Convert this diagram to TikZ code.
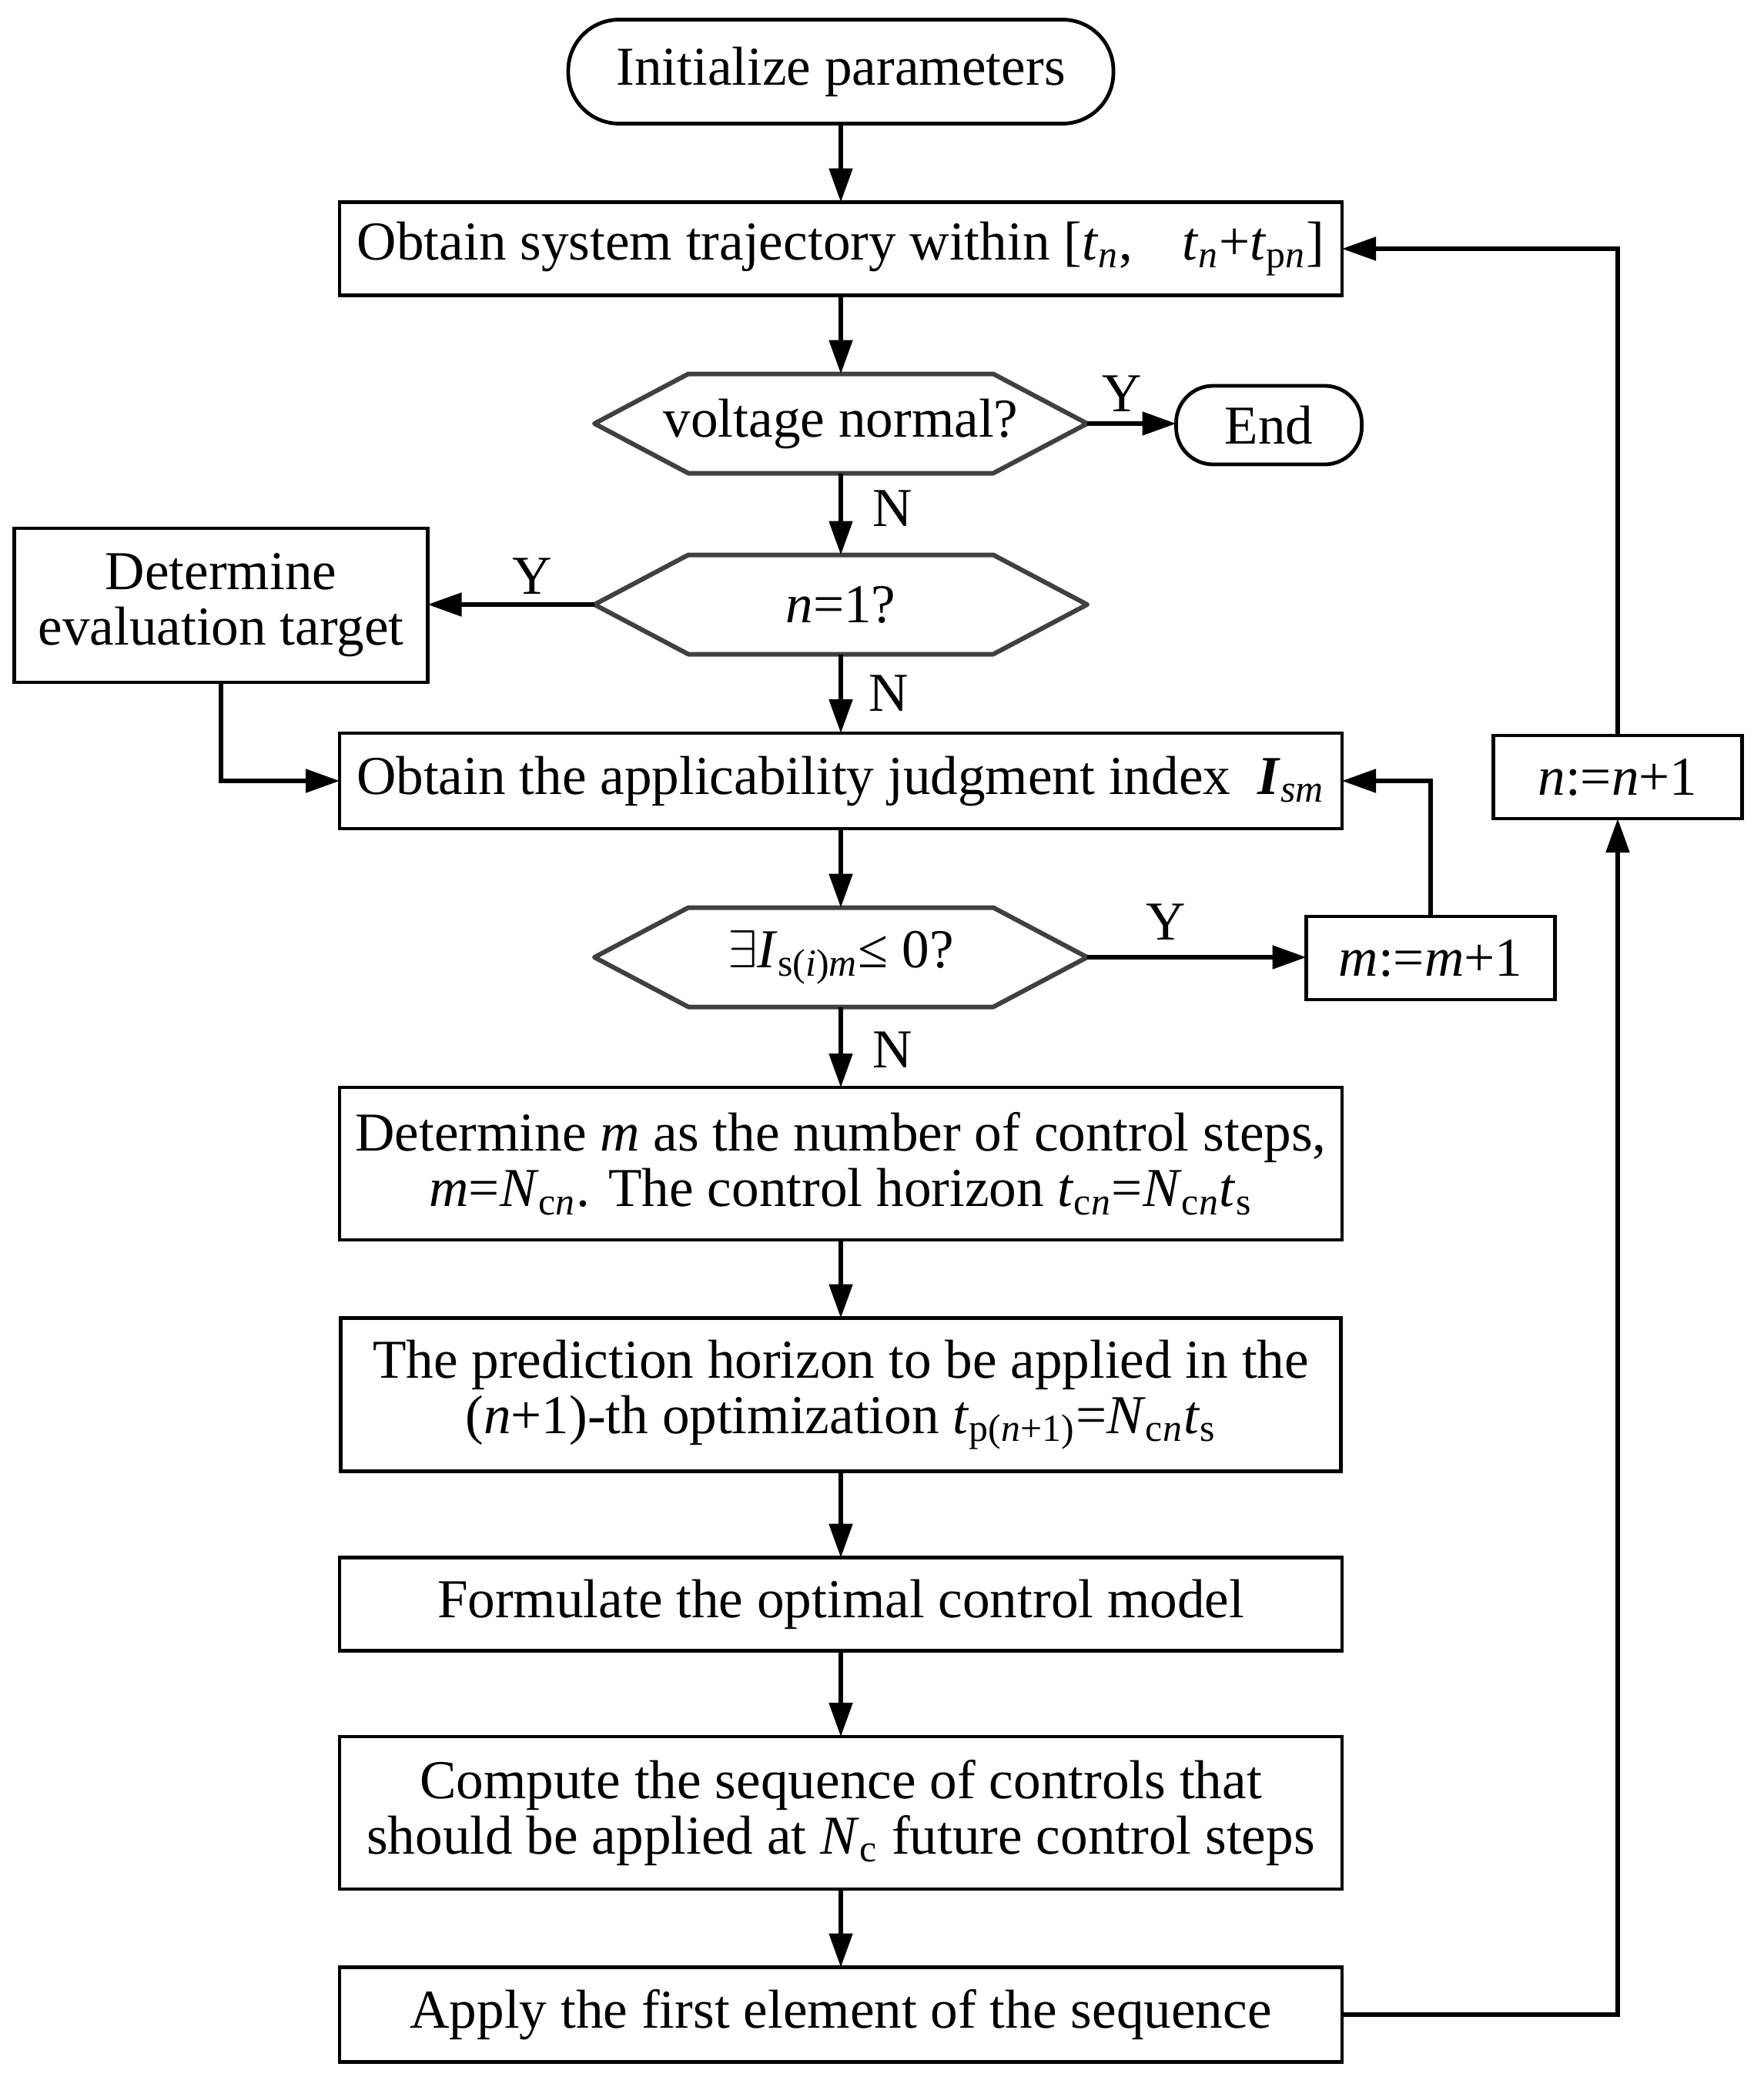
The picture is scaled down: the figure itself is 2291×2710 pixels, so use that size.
\documentclass[tikz,border=0pt]{standalone}
\usepackage{fontspec}
\setmainfont{Liberation Serif}
\usetikzlibrary{arrows.meta}
\newcommand\fs{\fontsize{17.8}{18}\selectfont}
\newcommand\sbs[1]{\textsubscript{#1}}
\tikzset{
  box/.style={draw, line width=1.2pt, rectangle, minimum width=325.5pt, align=center, inner sep=0pt, outer sep=0pt, font=\fs},
  hexbox/.style={rectangle, minimum width=160pt, minimum height=32.25pt, align=center, inner sep=0pt, outer sep=0pt, font=\fs},
  hexline/.style={draw=black!75, line width=1.5pt, line join=round},
  term/.style={draw, line width=1.2pt, rectangle, rounded corners=12pt, align=center, inner sep=0pt, outer sep=0pt, font=\fs},
  arr/.style={line width=1.3pt, -{Triangle[length=11pt,width=7.5pt]}},
  lbl/.style={font=\fs, inner sep=0pt}
}
\begin{document}
\begin{tikzpicture}[x=0.25pt,y=-0.25pt]
\useasboundingbox (0,0) rectangle (2291,2710);
\node[term, minimum width=177pt, minimum height=33.75pt, rounded corners=16.5pt] (init) at (1092,93) {Initialize parameters};
\node[box, minimum height=30.25pt] (traj) at (1092,323) {Obtain system trajectory within [\textit{t}\sbs{\textit{n}},\hspace{0.9em}\textit{t}\sbs{\textit{n}}+\textit{t}\sbs{p\textit{n}}]};
\node[hexbox] (volt) at (1092,550) {voltage normal?};
\node[term, minimum width=60.25pt, minimum height=25.5pt] (end) at (1648,552) {End};
\node[hexbox] (n1) at (1092,785) {\textit{n}=1?};
\node[box, minimum width=134.25pt, minimum height=50pt] (deteval) at (287,786) {Determine\\evaluation target};
\node[box, minimum height=31pt] (appl) at (1092,1014) {Obtain the applicability judgment index\hspace{0.5em}\textbf{\textit{I}}\sbs{\textit{sm}}};
\node[hexbox] (ex) at (1092,1243) {$\exists$\textit{I}\sbs{s(\textit{i})\textit{m}}≤ 0?};
\node[box, minimum width=80.75pt, minimum height=27pt] (mplus) at (1858,1244) {\textit{m}:=\textit{m}+1};
\node[box, minimum width=80.75pt, minimum height=27pt] (nplus) at (2101,1009) {\textit{n}:=\textit{n}+1};
\node[box, minimum height=49.5pt] (detm) at (1092,1511) {Determine \textit{m} as the number of control steps,\\\textit{m}=\textit{N}\sbs{c\textit{n}}. The control horizon \textit{t}\sbs{c\textit{n}}=\textit{N}\sbs{c\textit{n}}\textit{t}\sbs{s}};
\node[box, minimum width=324.75pt, minimum height=49.75pt] (pred) at (1092,1811) {The prediction horizon to be applied in the\\(\textit{n}+1)-th optimization \textit{t}\sbs{p(\textit{n}+1)}=\textit{N}\sbs{c\textit{n}}\textit{t}\sbs{s}};
\node[box, minimum height=30.25pt] (form) at (1092,2083) {Formulate the optimal control model};
\node[box, minimum height=49.5pt] (comp) at (1092,2354) {Compute the sequence of controls that\\should be applied at \textit{N}\sbs{c} future control steps};
\node[box, minimum height=30.75pt] (apply) at (1092,2616) {Apply the first element of the sequence};

\foreach \h in {volt,n1,ex}
  \draw[hexline] ([xshift=30.5pt]\h.north west) -- ([xshift=-30.5pt]\h.north east) -- (\h.east) -- ([xshift=-30.5pt]\h.south east) -- ([xshift=30.5pt]\h.south west) -- (\h.west) -- cycle;

\draw[arr] (init) -- (traj);
\draw[arr] (traj) -- (volt.north);
\draw[arr] (volt.east) -- (volt.east -| end.west);
\draw[arr] (volt.south) -- (n1.north);
\draw[arr] (n1.west) -- (n1.west -| deteval.east);
\draw[arr] (n1.south) -- (appl.north);
\draw[arr] (deteval.south) |- (appl.west);
\draw[arr] (appl.south) -- (ex.north);
\draw[arr] (ex.east) -- (ex.east -| mplus.west);
\draw[arr] (mplus.north) |- (appl.east);
\draw[arr] (ex.south) -- (detm.north);
\draw[arr] (detm) -- (pred);
\draw[arr] (pred) -- (form);
\draw[arr] (form) -- (comp);
\draw[arr] (comp) -- (apply);
\draw[arr] (apply.east) -| (nplus.south);
\draw[arr] (nplus.north) |- (traj.east);

\node[lbl] (y1) at (1457,511) {Y};
\node[lbl] (n1l) at (1159,660) {N};
\node[lbl] (y2) at (691,748) {Y};
\node[lbl] (n2l) at (1154,900) {N};
\node[lbl] (y3) at (1514,1197) {Y};
\node[lbl] (n3l) at (1159,1363) {N};
\end{tikzpicture}
\end{document}
